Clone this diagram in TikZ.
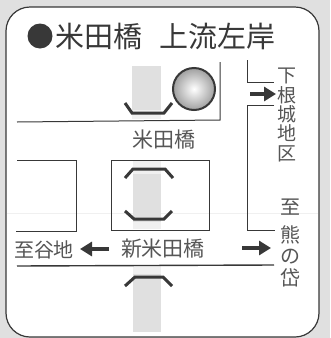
\documentclass[tikz,border=0pt]{standalone}
\usepackage{fontspec}
\usetikzlibrary{arrows.meta}
\newfontfamily\jp{Noto Sans CJK JP}
\definecolor{ink}{gray}{0.22}
\definecolor{paper}{gray}{0.88}
\definecolor{river}{gray}{0.88}
\definecolor{faintriver}{gray}{0.94}
\tikzset{
  road/.style={draw=ink,line width=1pt},
  bridgeline/.style={draw=ink,line width=3pt,line join=miter},
  arrowline/.style={draw=ink,line width=3.4pt,-{Triangle[length=12pt,width=14pt]}},
  lab/.style={inner sep=0pt,text=ink!85,font=\jp\fontsize{20}{20}\selectfont},
  col/.style={lab,align=center,font=\jp\fontsize{19}{19.3}\selectfont},
  colwide/.style={lab,align=center,font=\jp\fontsize{20}{21.5}\selectfont}
}
\begin{document}
\begin{tikzpicture}[x=1pt,y=-1pt]
\useasboundingbox (0,0) rectangle (330,338);
\fill[paper] (0,0) rectangle (330,338);
\draw[fill=white,draw=ink,line width=1.2pt,rounded corners=24pt] (6,7) rectangle (319,337);
\draw[gray!12,line width=0.8pt] (7,213) -- (318,213);
\fill[river] (132,66) rectangle (161,110);
\fill[faintriver] (132,110) rectangle (161,119);
\fill[faintriver] (133,161) rectangle (161,174);
\fill[river] (133,174) rectangle (161,222);
\fill[faintriver] (133,222) rectangle (161,229);
\fill[faintriver] (133,266) rectangle (161,274);
\fill[river] (133,274) rectangle (161,332);
% roads
\draw[road] (17,122) -- (220,120) -- (220,62);
\draw[road] (247,60) -- (247,82) -- (274,82);
\draw[road] (274,105) -- (247,105) -- (247,230) -- (275,230);
\draw[road] (111,160) rectangle (209,230);
\draw[road] (17,160) -- (76,160) -- (76,231) -- (16,231);
\draw[road,line width=1.4pt] (17,266) -- (274,265);
% bridges
\draw[bridgeline] (125,103) -- (132,113) -- (164,113) -- (172,103);
\draw[bridgeline] (125,178) -- (133,169) -- (165,169) -- (173,178);
\draw[bridgeline] (125,211) -- (134,219) -- (164,219) -- (172,211);
\draw[bridgeline] (125,286) -- (135,277) -- (163,277) -- (172,286);
% marker
\shade[inner color=white,outer color=gray!75] (194,89) circle (21pt);
\draw[ink,line width=2pt] (194,89) circle (21pt);
% title
\fill[ink] (40,36) circle (12.5pt);
\node[inner sep=0pt,text=ink,font=\jp\fontsize{29}{29}\selectfont] (t1) at (99,36) {米田橋};
\node[inner sep=0pt,text=ink,font=\jp\fontsize{29}{29}\selectfont] (t2) at (217,36) {上流左岸};
% labels
\node[lab,font=\jp\fontsize{21}{21}\selectfont] (b1) at (164,140) {米田橋};
\node[lab,font=\jp\fontsize{21}{21}\selectfont] (b2) at (163,249) {新米田橋};
\node[lab] (west) at (44,250) {至谷地};
\node[col] (north) at (287,115) {下\\根\\城\\地\\区};
\node[colwide] (east) at (290,243) {至\\[6pt]熊\\の\\岱};
% arrows
\draw[arrowline] (250,94) -- (276,94);
\draw[arrowline] (109,249) -- (80,249);
\draw[arrowline] (242,248) -- (271,248);
\end{tikzpicture}
\end{document}
